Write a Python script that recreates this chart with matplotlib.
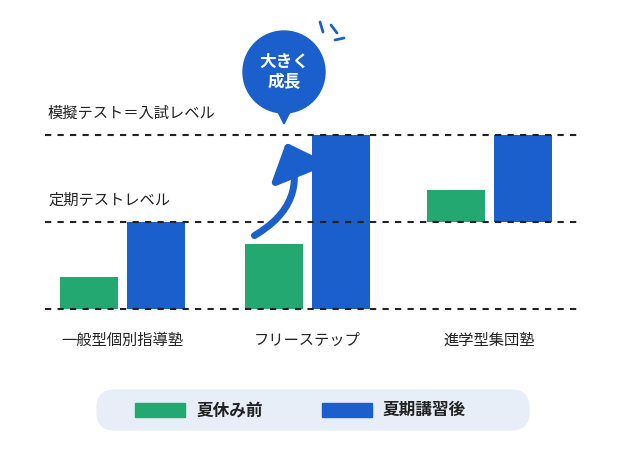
import numpy as np
import matplotlib.pyplot as plt
from matplotlib.patches import FancyBboxPatch, Circle, FancyArrowPatch, Polygon

plt.rcParams['font.family'] = 'Noto Sans CJK JP'

categories = ['一般型個別指導塾', 'フリーステップ', '進学型集団塾']
before_bottom = [0.0, 0.0, 1.0]
before_top = [0.37, 0.75, 1.37]
after_bottom = [0.0, 0.0, 1.0]
after_top = [1.0, 2.0, 2.0]
level_labels = ['定期テストレベル', '模擬テスト＝入試レベル']
series_names = ['夏休み前', '夏期講習後']

green = '#22a870'
blue = '#1b5fcc'

# axes fills the figure; x in pixels, y in "level" units (87 px per level, 0 at y=309px)
fig = plt.figure(figsize=(6.26, 4.5), dpi=100)
ax = fig.add_axes([0, 0, 1, 1])
ax.set_xlim(0, 626)
ax.set_ylim((309 - 450) / 87, 309 / 87)
ax.axis('off')

centers = np.array([122, 307, 489])
w = 58
bh = np.array(before_top) - np.array(before_bottom)
ah = np.array(after_top) - np.array(after_bottom)
ax.bar(centers - 33, bh, width=w, bottom=before_bottom, color=green, zorder=2)
ax.bar(centers + 34, ah, width=w, bottom=after_bottom, color=blue, zorder=2)

for lv in [0, 1, 2]:
    ax.plot([45, 582], [lv, lv], ls=(0, (3, 3)), color='#222222', lw=1.5, zorder=3)
for lv, lab in zip([1, 2], level_labels):
    ax.text(48, lv + 0.25, lab, fontsize=11, va='center', ha='left', color='#222222')

for c, lab in zip(centers, categories):
    ax.text(c, -0.36, lab, fontsize=11, ha='center', va='center', color='#222222')

# curved arrow
def py(y):
    return (309 - y) / 87
ax.add_patch(FancyArrowPatch((252, py(237)), (285, py(140)),
                             connectionstyle='arc3,rad=0.45', arrowstyle='-|>,head_width=9,head_length=10',
                             mutation_scale=2, color=blue, lw=5, zorder=4))

# speech bubble
sx = 1.0 / 87  # x px to y units ratio approx
from matplotlib.patches import Ellipse
ax.add_patch(Ellipse((284, py(72)), 82, 82 / 87, color=blue, zorder=4))
ax.add_patch(Polygon([(276, py(108)), (292, py(108)), (284, py(124))], color=blue, zorder=4))
ax.text(284, py(72), '大きく\n成長', color='white', fontsize=12, fontweight='bold',
        ha='center', va='center', linespacing=1.2, zorder=5)
for (x0, y0, x1, y1) in [(320, 22, 323, 32), (331, 25, 337, 33), (335, 40, 344, 38)]:
    ax.plot([x0, x1], [py(y0), py(y1)], color=blue, lw=2, solid_capstyle='round')

# legend box
ax.add_patch(FancyBboxPatch((97, py(430)), 432, 40 / 87,
                            boxstyle='round,pad=0,rounding_size=18', mutation_aspect=1 / 87,
                            color='#e7eef8', zorder=1))
ax.add_patch(plt.Rectangle((135, py(417)), 50, 14 / 87, color=green, zorder=2))
ax.text(197, py(410), series_names[0], fontsize=12, fontweight='bold', va='center', color='#222222')
ax.add_patch(plt.Rectangle((322, py(417)), 50, 14 / 87, color=blue, zorder=2))
ax.text(383, py(410), series_names[1], fontsize=12, fontweight='bold', va='center', color='#222222')

fig.savefig('out.png', dpi=100)
